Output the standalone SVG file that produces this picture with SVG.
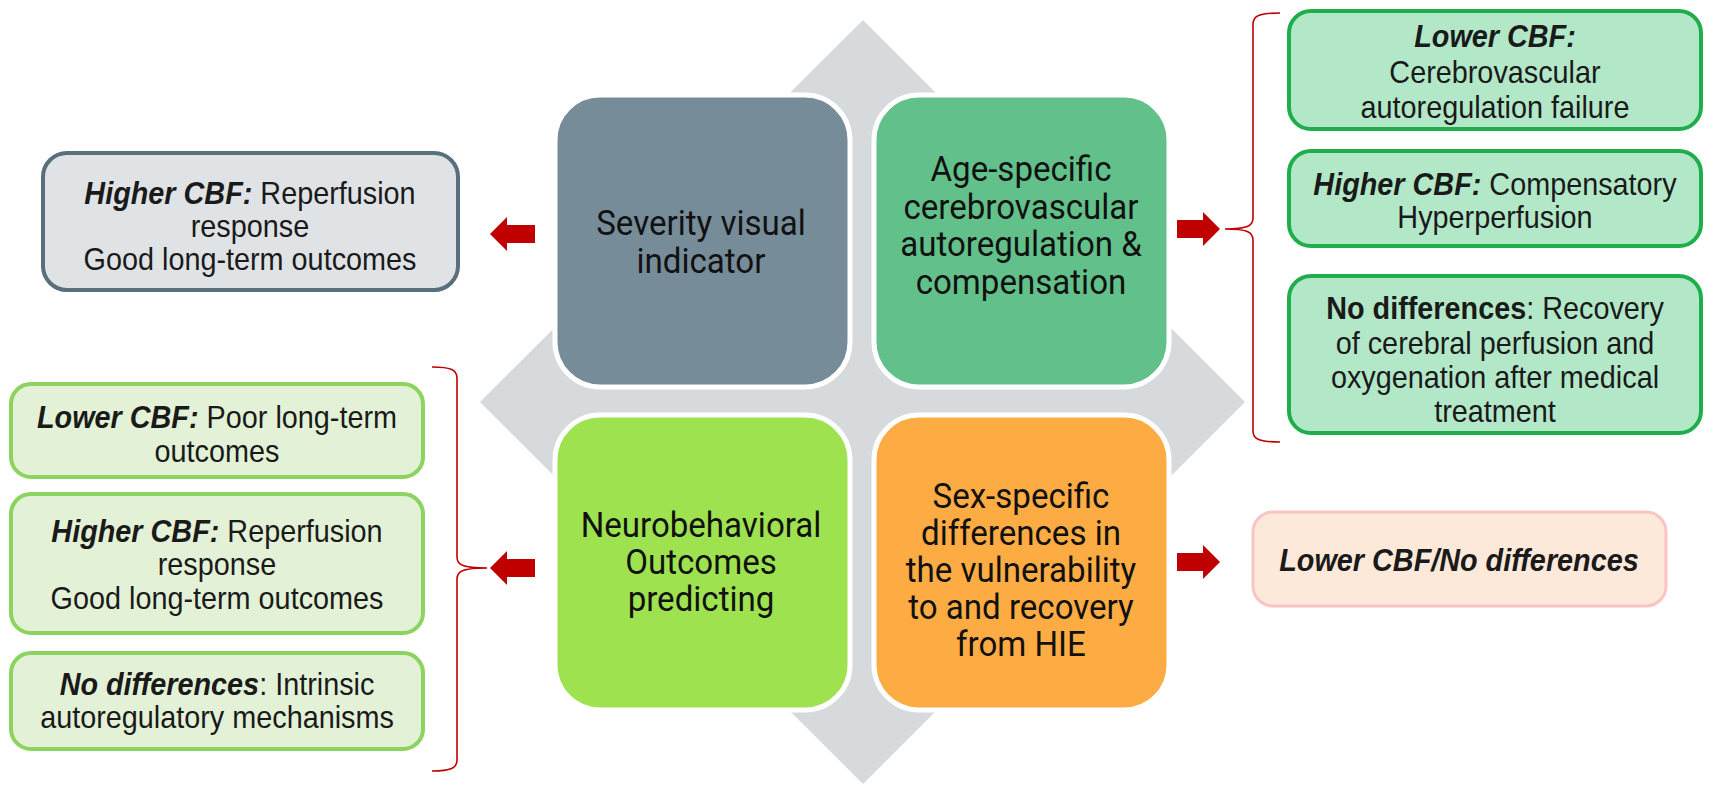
<svg xmlns="http://www.w3.org/2000/svg" width="1712" height="794" viewBox="0 0 1712 794">
<style>
.hub{stroke:#ffffff;stroke-width:5}
.ht{font-family:Roboto,"Liberation Sans",sans-serif;font-size:35px;fill:#111;text-anchor:middle}
.bt{font-family:"Liberation Sans",Arial,sans-serif;font-size:32px;fill:#1a1a1a;text-anchor:middle}
.bi{font-weight:bold;font-style:italic}
.b{font-weight:bold}
.brace{fill:none;stroke:#c00000;stroke-width:1.6}
.arr{fill:#c00000}
</style>
<rect width="1712" height="794" fill="#ffffff"/>
<polygon id="diamond" points="863,20 1245,402 863,784 480,402" fill="#d6dadd"/>

<g id="hub-severity">
<rect class="hub" x="555" y="95" width="295" height="292" rx="45" fill="#778c99"/>
<g transform="matrix(0.945 0 0 1 38.555 0)"><text class="ht"><tspan x="701" y="235">Severity visual</tspan><tspan x="701" y="273">indicator</tspan></text></g>
</g>
<g id="hub-age">
<rect class="hub" x="874" y="95" width="295" height="292" rx="45" fill="#62c18a"/>
<g transform="matrix(0.945 0 0 1 56.155 0)"><text class="ht"><tspan x="1021" y="181">Age-specific</tspan><tspan x="1021" y="219">cerebrovascular</tspan><tspan x="1021" y="256">autoregulation &amp;</tspan><tspan x="1021" y="294">compensation</tspan></text></g>
</g>
<g id="hub-neuro">
<rect class="hub" x="555" y="415" width="295" height="295" rx="45" fill="#9ee34f"/>
<g transform="matrix(0.945 0 0 1 38.555 0)"><text class="ht"><tspan x="701" y="537">Neurobehavioral</tspan><tspan x="701" y="574">Outcomes</tspan><tspan x="701" y="611">predicting</tspan></text></g>
</g>
<g id="hub-sex">
<rect class="hub" x="874" y="415" width="295" height="295" rx="45" fill="#fdab43"/>
<g transform="matrix(0.945 0 0 1 56.155 0)"><text class="ht"><tspan x="1021" y="508">Sex-specific</tspan><tspan x="1021" y="545">differences in</tspan><tspan x="1021" y="582">the vulnerability</tspan><tspan x="1021" y="619">to and recovery</tspan><tspan x="1021" y="656">from HIE</tspan></text></g>
</g>

<g id="box-severity-higher">
<rect x="43" y="153" width="415" height="137" rx="24" fill="#e0e3e5" stroke="#5a6f7c" stroke-width="4"/>
<g transform="matrix(0.9 0 0 1 25 0)"><text class="bt"><tspan x="250" y="204"><tspan class="bi">Higher CBF:</tspan> Reperfusion</tspan><tspan x="250" y="237">response</tspan><tspan x="250" y="270">Good long-term outcomes</tspan></text></g>
</g>

<g id="box-neuro-lower">
<rect x="11" y="384" width="412" height="93" rx="20" fill="#e3f2d6" stroke="#8dd35f" stroke-width="4"/>
<g transform="matrix(0.9 0 0 1 21.7 0)"><text class="bt"><tspan x="217" y="428"><tspan class="bi">Lower CBF:</tspan> Poor long-term</tspan><tspan x="217" y="462">outcomes</tspan></text></g>
</g>
<g id="box-neuro-higher">
<rect x="11" y="494" width="412" height="139" rx="20" fill="#e3f2d6" stroke="#8dd35f" stroke-width="4"/>
<g transform="matrix(0.9 0 0 1 21.7 0)"><text class="bt"><tspan x="217" y="542"><tspan class="bi">Higher CBF:</tspan> Reperfusion</tspan><tspan x="217" y="575">response</tspan><tspan x="217" y="609">Good long-term outcomes</tspan></text></g>
</g>
<g id="box-neuro-nodiff">
<rect x="11" y="653" width="412" height="96" rx="20" fill="#e3f2d6" stroke="#8dd35f" stroke-width="4"/>
<g transform="matrix(0.9 0 0 1 21.7 0)"><text class="bt"><tspan x="217" y="695"><tspan class="bi">No differences</tspan>: Intrinsic</tspan><tspan x="217" y="728">autoregulatory mechanisms</tspan></text></g>
</g>

<g id="box-age-lower">
<rect x="1289" y="11" width="412" height="118" rx="22" fill="#b2e8c8" stroke="#1fae4b" stroke-width="4"/>
<g transform="matrix(0.9 0 0 1 149.5 0)"><text class="bt"><tspan x="1495" y="47" class="bi">Lower CBF:</tspan><tspan x="1495" y="83">Cerebrovascular</tspan><tspan x="1495" y="118">autoregulation failure</tspan></text></g>
</g>
<g id="box-age-higher">
<rect x="1289" y="151" width="412" height="95" rx="22" fill="#b2e8c8" stroke="#1fae4b" stroke-width="4"/>
<g transform="matrix(0.9 0 0 1 149.5 0)"><text class="bt"><tspan x="1495" y="195"><tspan class="bi">Higher CBF:</tspan> Compensatory</tspan><tspan x="1495" y="228">Hyperperfusion</tspan></text></g>
</g>
<g id="box-age-nodiff">
<rect x="1289" y="276" width="412" height="157" rx="22" fill="#b2e8c8" stroke="#1fae4b" stroke-width="4"/>
<g transform="matrix(0.9 0 0 1 149.5 0)"><text class="bt"><tspan x="1495" y="319"><tspan class="b">No differences</tspan>: Recovery</tspan><tspan x="1495" y="354">of cerebral perfusion and</tspan><tspan x="1495" y="388">oxygenation after medical</tspan><tspan x="1495" y="422">treatment</tspan></text></g>
</g>

<g id="box-sex">
<rect x="1253" y="512" width="413" height="94" rx="20" fill="#fde9d9" stroke="#fbc4c4" stroke-width="3"/>
<g transform="matrix(0.9 0 0 1 145.9 0)"><text class="bt bi"><tspan x="1459" y="571">Lower CBF/No differences</tspan></text></g>
</g>

<g id="connectors">
<path class="arr" d="M490,234 l17,-17 v8 h28 v18 h-28 v8 z"/>
<path class="arr" d="M490,568 l17,-17 v8 h28 v18 h-28 v8 z"/>
<path class="arr" d="M1220,229 l-17,-17 v8 h-26 v18 h26 v8 z"/>
<path class="arr" d="M1220,562 l-17,-17 v8 h-26 v18 h26 v8 z"/>
<path class="brace" d="M432,367 C451,367 457,370 457,378 V557 C457,565 463,568 487,568 C463,568 457,571 457,579 V760 C457,768 451,771 432,771"/>
<path class="brace" d="M1280,13 C1259,13 1253,16 1253,24 V218 C1253,226 1247,229 1225,229 C1247,229 1253,232 1253,240 V431 C1253,439 1259,442 1280,442"/>
</g>
</svg>
